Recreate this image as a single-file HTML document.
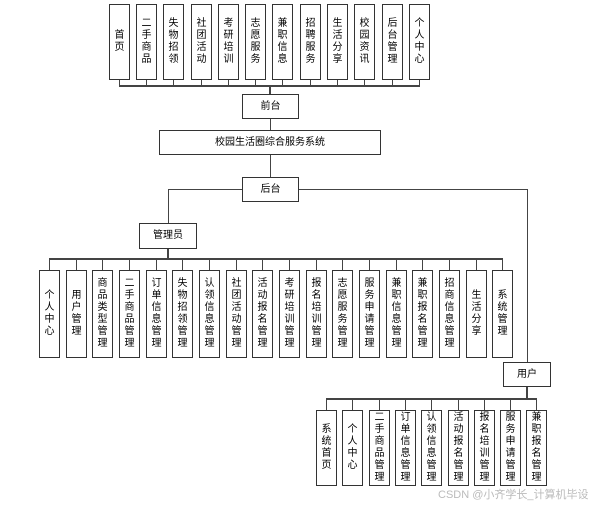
<!DOCTYPE html>
<html><head><meta charset="utf-8"><style>
body{margin:0;width:600px;height:505px;background:#fff;position:relative;overflow:hidden;font-family:"Liberation Sans","Noto Sans CJK SC",sans-serif;font-size:10px;color:#000}
.b{position:absolute;border:1px solid #333;box-sizing:border-box;background:#fff;display:flex;align-items:center;justify-content:center;text-align:center;line-height:12px}
.v{width:21px}
.l{position:absolute;background:#444}
</style></head><body>
<!-- top lines -->
<div class="l" style="left:119px;top:85px;width:301px;height:2px"></div>
<div class="l" style="left:269px;top:85px;width:2px;height:9px"></div>
<div class="l" style="left:270px;top:119px;width:1px;height:11px"></div>
<div class="l" style="left:270px;top:155px;width:1px;height:22px"></div>
<div class="l" style="left:168px;top:189px;width:360px;height:1px"></div>
<div class="l" style="left:168px;top:189px;width:1px;height:34px"></div>
<div class="l" style="left:527px;top:189px;width:1px;height:173px"></div>
<div class="l" style="left:167px;top:249px;width:2px;height:9px"></div>
<div class="l" style="left:49px;top:258px;width:454px;height:2px"></div>
<div class="l" style="left:526px;top:387px;width:2px;height:12px"></div>
<div class="l" style="left:326px;top:398px;width:211px;height:2px"></div>
<!-- top connectors -->
<div class="l" style="left:119px;top:80px;width:1px;height:6px"></div><div class="l" style="left:146px;top:80px;width:1px;height:6px"></div><div class="l" style="left:173px;top:80px;width:1px;height:6px"></div><div class="l" style="left:201px;top:80px;width:1px;height:6px"></div><div class="l" style="left:228px;top:80px;width:1px;height:6px"></div><div class="l" style="left:255px;top:80px;width:1px;height:6px"></div><div class="l" style="left:282px;top:80px;width:1px;height:6px"></div><div class="l" style="left:310px;top:80px;width:1px;height:6px"></div><div class="l" style="left:337px;top:80px;width:1px;height:6px"></div><div class="l" style="left:364px;top:80px;width:1px;height:6px"></div><div class="l" style="left:392px;top:80px;width:1px;height:6px"></div><div class="l" style="left:419px;top:80px;width:1px;height:6px"></div>
<!-- admin connectors -->
<div class="l" style="left:49px;top:258px;width:1px;height:12px"></div><div class="l" style="left:76px;top:258px;width:1px;height:12px"></div><div class="l" style="left:102px;top:258px;width:1px;height:12px"></div><div class="l" style="left:129px;top:258px;width:1px;height:12px"></div><div class="l" style="left:156px;top:258px;width:1px;height:12px"></div><div class="l" style="left:182px;top:258px;width:1px;height:12px"></div><div class="l" style="left:209px;top:258px;width:1px;height:12px"></div><div class="l" style="left:236px;top:258px;width:1px;height:12px"></div><div class="l" style="left:262px;top:258px;width:1px;height:12px"></div><div class="l" style="left:289px;top:258px;width:1px;height:12px"></div><div class="l" style="left:316px;top:258px;width:1px;height:12px"></div><div class="l" style="left:342px;top:258px;width:1px;height:12px"></div><div class="l" style="left:369px;top:258px;width:1px;height:12px"></div><div class="l" style="left:396px;top:258px;width:1px;height:12px"></div><div class="l" style="left:422px;top:258px;width:1px;height:12px"></div><div class="l" style="left:449px;top:258px;width:1px;height:12px"></div><div class="l" style="left:476px;top:258px;width:1px;height:12px"></div><div class="l" style="left:502px;top:258px;width:1px;height:12px"></div>
<!-- user connectors -->
<div class="l" style="left:326px;top:399px;width:1px;height:11px"></div><div class="l" style="left:352px;top:399px;width:1px;height:11px"></div><div class="l" style="left:379px;top:399px;width:1px;height:11px"></div><div class="l" style="left:405px;top:399px;width:1px;height:11px"></div><div class="l" style="left:431px;top:399px;width:1px;height:11px"></div><div class="l" style="left:458px;top:399px;width:1px;height:11px"></div><div class="l" style="left:484px;top:399px;width:1px;height:11px"></div><div class="l" style="left:510px;top:399px;width:1px;height:11px"></div><div class="l" style="left:536px;top:399px;width:1px;height:11px"></div>

<!-- top boxes -->
<div class="b v" style="left:109px;top:4px;height:76px">首<br>页</div>
<div class="b v" style="left:136px;top:4px;height:76px">二<br>手<br>商<br>品</div>
<div class="b v" style="left:163px;top:4px;height:76px">失<br>物<br>招<br>领</div>
<div class="b v" style="left:191px;top:4px;height:76px">社<br>团<br>活<br>动</div>
<div class="b v" style="left:218px;top:4px;height:76px">考<br>研<br>培<br>训</div>
<div class="b v" style="left:245px;top:4px;height:76px">志<br>愿<br>服<br>务</div>
<div class="b v" style="left:272px;top:4px;height:76px">兼<br>职<br>信<br>息</div>
<div class="b v" style="left:300px;top:4px;height:76px">招<br>聘<br>服<br>务</div>
<div class="b v" style="left:327px;top:4px;height:76px">生<br>活<br>分<br>享</div>
<div class="b v" style="left:354px;top:4px;height:76px">校<br>园<br>资<br>讯</div>
<div class="b v" style="left:382px;top:4px;height:76px">后<br>台<br>管<br>理</div>
<div class="b v" style="left:409px;top:4px;height:76px">个<br>人<br>中<br>心</div>

<div class="b" style="left:242px;top:94px;width:57px;height:25px">前台</div>
<div class="b" style="left:159px;top:130px;width:222px;height:25px">校园生活圈综合服务系统</div>
<div class="b" style="left:242px;top:177px;width:57px;height:25px">后台</div>
<div class="b" style="left:139px;top:223px;width:58px;height:26px">管理员</div>
<div class="b" style="left:503px;top:362px;width:48px;height:25px">用户</div>

<!-- admin boxes -->
<div class="b v" style="left:39px;top:270px;height:88px">个<br>人<br>中<br>心</div>
<div class="b v" style="left:66px;top:270px;height:88px">用<br>户<br>管<br>理</div>
<div class="b v" style="left:92px;top:270px;height:88px">商<br>品<br>类<br>型<br>管<br>理</div>
<div class="b v" style="left:119px;top:270px;height:88px">二<br>手<br>商<br>品<br>管<br>理</div>
<div class="b v" style="left:146px;top:270px;height:88px">订<br>单<br>信<br>息<br>管<br>理</div>
<div class="b v" style="left:172px;top:270px;height:88px">失<br>物<br>招<br>领<br>管<br>理</div>
<div class="b v" style="left:199px;top:270px;height:88px">认<br>领<br>信<br>息<br>管<br>理</div>
<div class="b v" style="left:226px;top:270px;height:88px">社<br>团<br>活<br>动<br>管<br>理</div>
<div class="b v" style="left:252px;top:270px;height:88px">活<br>动<br>报<br>名<br>管<br>理</div>
<div class="b v" style="left:279px;top:270px;height:88px">考<br>研<br>培<br>训<br>管<br>理</div>
<div class="b v" style="left:306px;top:270px;height:88px">报<br>名<br>培<br>训<br>管<br>理</div>
<div class="b v" style="left:332px;top:270px;height:88px">志<br>愿<br>服<br>务<br>管<br>理</div>
<div class="b v" style="left:359px;top:270px;height:88px">服<br>务<br>申<br>请<br>管<br>理</div>
<div class="b v" style="left:386px;top:270px;height:88px">兼<br>职<br>信<br>息<br>管<br>理</div>
<div class="b v" style="left:412px;top:270px;height:88px">兼<br>职<br>报<br>名<br>管<br>理</div>
<div class="b v" style="left:439px;top:270px;height:88px">招<br>商<br>信<br>息<br>管<br>理</div>
<div class="b v" style="left:466px;top:270px;height:88px">生<br>活<br>分<br>享</div>
<div class="b v" style="left:492px;top:270px;height:88px">系<br>统<br>管<br>理</div>

<!-- user boxes -->
<div class="b v" style="left:316px;top:410px;height:76px">系<br>统<br>首<br>页</div>
<div class="b v" style="left:342px;top:410px;height:76px">个<br>人<br>中<br>心</div>
<div class="b v" style="left:369px;top:410px;height:76px">二<br>手<br>商<br>品<br>管<br>理</div>
<div class="b v" style="left:395px;top:410px;height:76px">订<br>单<br>信<br>息<br>管<br>理</div>
<div class="b v" style="left:421px;top:410px;height:76px">认<br>领<br>信<br>息<br>管<br>理</div>
<div class="b v" style="left:448px;top:410px;height:76px">活<br>动<br>报<br>名<br>管<br>理</div>
<div class="b v" style="left:474px;top:410px;height:76px">报<br>名<br>培<br>训<br>管<br>理</div>
<div class="b v" style="left:500px;top:410px;height:76px">服<br>务<br>申<br>请<br>管<br>理</div>
<div class="b v" style="left:526px;top:410px;height:76px">兼<br>职<br>报<br>名<br>管<br>理</div>

<div style="position:absolute;left:438px;top:486px;font-size:11px;color:#bbb;white-space:nowrap">CSDN @小齐学长_计算机毕设</div>
</body></html>
